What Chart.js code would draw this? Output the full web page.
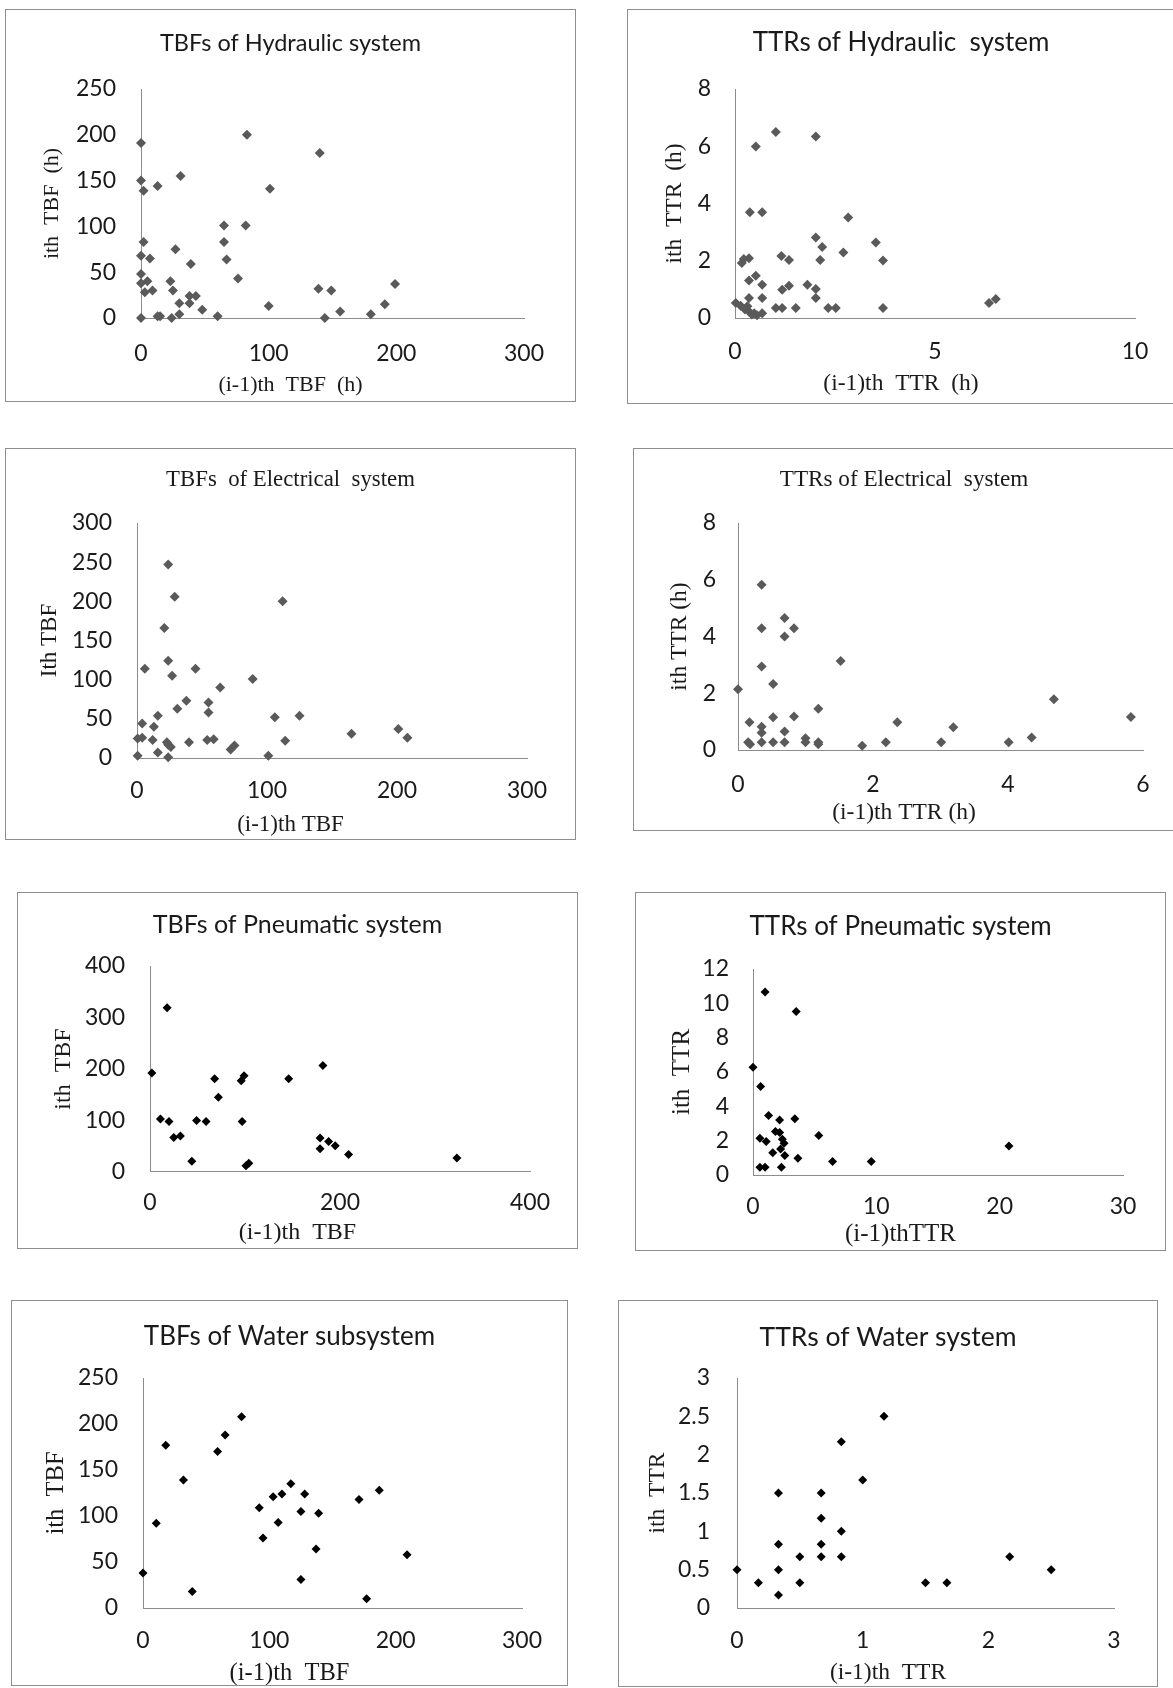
<!DOCTYPE html>
<html>
<head>
<meta charset="utf-8">
<title>TBF / TTR scatter plots</title>
<script src="https://cdn.jsdelivr.net/npm/chart.js@4.4.1/dist/chart.umd.min.js"></script>
<style>
  html, body { margin: 0; padding: 0; background: #fff; }
  body { position: relative; width: 1173px; height: 1688px; overflow: hidden; }
  canvas.panel { position: absolute; }
  .frame { position: absolute; box-sizing: border-box; border: 1px solid #8e8e8e; pointer-events: none; }
</style>
</head>
<body>
<script>
// ---- data: (i-1)th value vs ith value ----

// Hydraulic system, TBF (h)
const hydTbfPrev = [0, 0, 2, 13, 31, 83, 140, 101, 65, 82, 65, 67, 76, 27, 39, 2, 0, 7, 0, 0, 5, 3, 9, 23, 25, 30, 38, 38, 43, 48, 60, 30, 24, 15, 13, 0, 100, 139, 149, 144, 156, 180, 191, 199];
const hydTbfNext = [191, 150, 139, 144, 155, 200, 180, 141, 101, 101, 83, 64, 43, 75, 59, 83, 68, 65, 48, 38, 40, 28, 30, 40, 30, 16, 24, 16, 24, 9, 2, 4, 0, 2, 2, 0, 13, 32, 30, 0, 7, 4, 15, 37];

// Hydraulic system, TTR (h)
const hydTtrPrev = [1.02, 2.02, 0.52, 0.37, 0.68, 2.83, 2.02, 3.52, 2.18, 2.71, 2.13, 3.7, 1.16, 1.35, 0.17, 0.22, 0.35, 0.52, 0.35, 0.68, 1.18, 1.35, 1.81, 2.02, 2.02, 0.68, 0.35, 0.02, 0.14, 0.31, 0.35, 0.48, 0.68, 1.02, 1.18, 1.52, 2.33, 2.52, 3.7, 6.35, 6.52, 0.25, 0.42, 0.55];
const hydTtrNext = [6.5, 6.34, 5.99, 3.69, 3.69, 3.51, 2.81, 2.64, 2.48, 2.29, 2.03, 2.01, 2.17, 2.03, 1.92, 2.06, 2.09, 1.48, 1.31, 1.16, 0.99, 1.13, 1.16, 1.01, 0.7, 0.7, 0.7, 0.52, 0.43, 0.41, 0.23, 0.17, 0.17, 0.35, 0.35, 0.35, 0.35, 0.35, 0.35, 0.52, 0.66, 0.3, 0.12, 0.1];

// Electrical system, TBF
const eleTbfPrev = [24, 29, 112, 21, 24, 6, 45, 27, 89, 64, 38, 31, 55, 55, 16, 106, 125, 4, 13, 0.5, 4, 12, 23, 24, 26, 16, 24, 0.5, 40, 54, 59, 72, 75, 101, 114, 165, 201, 208];
const eleTbfNext = [247, 206, 200, 166, 124, 114, 114, 105, 101, 90, 73, 63, 71, 58, 54, 52, 54, 44, 40, 25, 26, 23, 20, 17, 14, 7, 1, 3, 20, 23, 24, 11, 16, 3, 22, 31, 37, 26];

// Electrical system, TTR (h)
const eleTtrPrev = [0, 0.35, 0.35, 0.69, 0.69, 0.83, 0.35, 0.52, 1.52, 1.19, 0.17, 0.35, 0.35, 0.52, 0.83, 0.69, 0.15, 0.18, 0.35, 0.52, 0.69, 1.0, 1.0, 1.19, 1.19, 1.84, 2.19, 2.36, 3.01, 3.19, 4.01, 4.35, 4.68, 5.82];
const eleTtrNext = [2.14, 5.82, 4.29, 4.65, 4.0, 4.29, 2.94, 2.33, 3.14, 1.45, 0.98, 0.82, 0.61, 1.15, 1.18, 0.65, 0.27, 0.2, 0.27, 0.27, 0.27, 0.41, 0.27, 0.27, 0.2, 0.15, 0.27, 0.98, 0.27, 0.8, 0.27, 0.44, 1.79, 1.16];

// Pneumatic system, TBF
const pneTbfPrev = [18, 2, 182, 99, 96, 68, 146, 72, 11, 20, 49, 59, 97, 25, 32, 179, 188, 195, 179, 209, 44, 101, 104, 323];
const pneTbfNext = [319, 192, 207, 187, 177, 181, 181, 145, 103, 98, 100, 98, 98, 67, 70, 66, 59, 51, 45, 34, 21, 12, 17, 27];

// Pneumatic system, TTR
const pneTtrPrev = [0.98, 3.5, 0, 0.62, 1.26, 2.16, 3.39, 1.82, 2.16, 5.33, 0.56, 1.07, 2.38, 2.52, 2.24, 1.6, 2.58, 3.64, 6.45, 9.59, 20.75, 0.56, 0.98, 2.3];
const pneTtrNext = [10.66, 9.53, 6.28, 5.16, 3.46, 3.21, 3.27, 2.53, 2.47, 2.3, 2.14, 1.95, 2.08, 1.85, 1.52, 1.3, 1.13, 0.97, 0.78, 0.78, 1.69, 0.45, 0.45, 0.45];

// Water subsystem, TBF
const watTbfPrev = [0, 10.5, 18, 39, 32, 59, 65, 78, 92, 95, 103, 110, 107, 117, 128, 125, 139, 137, 125, 171, 187, 209, 177];
const watTbfNext = [38, 92, 177, 18, 139, 170, 188, 208, 109, 76, 121, 124, 93, 135, 124, 105, 103, 64, 31, 118, 128, 58, 10];

// Water system, TTR
const watTtrPrev = [0, 0.17, 0.33, 0.33, 0.33, 0.33, 0.5, 0.5, 0.67, 0.67, 0.67, 0.67, 0.83, 0.83, 0.83, 1, 1.17, 1.5, 1.67, 2.17, 2.5];
const watTtrNext = [0.5, 0.33, 1.5, 0.83, 0.5, 0.17, 0.67, 0.33, 1.5, 1.17, 0.83, 0.67, 2.17, 1, 0.67, 1.67, 2.5, 0.33, 0.33, 0.67, 0.5];

// axis ranges: [max, step]
const tbfHydX = [300, 100], tbfHydY = [250, 50];
const ttrHydX = [10, 5],    ttrHydY = [8, 2];
const tbfEleX = [300, 100], tbfEleY = [300, 50];
const ttrEleX = [6, 2],     ttrEleY = [8, 2];
const tbfPneX = [400, 200], tbfPneY = [400, 100];
const ttrPneX = [30, 10],   ttrPneY = [12, 2];
const tbfWatX = [300, 100], tbfWatY = [250, 50];
const ttrWatX = [3, 1],     ttrWatY = [3, 0.5];

// ---- styling ----
const SANS = 'Lato, "Open Sans", sans-serif';
const SERIF = '"Liberation Serif", "Times New Roman", serif';
const TEXT = '#1a1a1a';
const AXIS = '#8c8c8c';
const GREY_MARK = '#5a5a5a';
const BLACK_MARK = '#000';
const TICK_SIZE = 23;

// box / area are page pixels: [left, top, right, bottom]
const panels = [
  { xs: hydTbfPrev, ys: hydTbfNext, xr: tbfHydX, yr: tbfHydY,
    title: 'TBFs of Hydraulic system', tFont: SANS, tSize: 23.5,
    xTitle: '(i-1)th  TBF  (h)', yTitle: 'ith  TBF  (h)', aSize: 22,
    box: [5, 9, 576, 402], area: [141, 89, 524, 318],
    titleY: 43, xTitleY: 385, yTitleX: 52, xLabelY: 354, yPad: 25, color: GREY_MARK, r: 5 },
  { xs: hydTtrPrev, ys: hydTtrNext, xr: ttrHydX, yr: ttrHydY,
    title: 'TTRs of Hydraulic  system', tFont: SANS, tSize: 26,
    xTitle: '(i-1)th  TTR  (h)', yTitle: 'ith  TTR  (h)', aSize: 23.5,
    box: [627, 9, 1175, 404], area: [735, 89, 1135, 318],
    titleY: 43, xTitleY: 384, yTitleX: 675, xLabelY: 352, yPad: 24, color: GREY_MARK, r: 5 },
  { xs: eleTbfPrev, ys: eleTbfNext, xr: tbfEleX, yr: tbfEleY,
    title: 'TBFs  of Electrical  system', tFont: SERIF, tSize: 22.8,
    xTitle: '(i-1)th TBF', yTitle: 'Ith TBF', aSize: 23,
    box: [5, 448, 576, 840], area: [137, 523, 527, 758],
    titleY: 480, xTitleY: 825, yTitleX: 50, xLabelY: 791, yPad: 25, color: GREY_MARK, r: 5 },
  { xs: eleTtrPrev, ys: eleTtrNext, xr: ttrEleX, yr: ttrEleY,
    title: 'TTRs of Electrical  system', tFont: SERIF, tSize: 23.2,
    xTitle: '(i-1)th TTR (h)', yTitle: 'ith TTR (h)', aSize: 23.5,
    box: [633, 448, 1175, 831], area: [738, 523, 1143, 750],
    titleY: 480, xTitleY: 813, yTitleX: 680, xLabelY: 785, yPad: 22, color: GREY_MARK, r: 5 },
  { xs: pneTbfPrev, ys: pneTbfNext, xr: tbfPneX, yr: tbfPneY,
    title: 'TBFs of Pneumatic system', tFont: SANS, tSize: 25,
    xTitle: '(i-1)th  TBF', yTitle: 'ith  TBF', aSize: 24,
    box: [17, 892, 578, 1249], area: [150, 966, 530, 1172],
    titleY: 925, xTitleY: 1233, yTitleX: 64, xLabelY: 1203, yPad: 25, color: BLACK_MARK, r: 4.5 },
  { xs: pneTtrPrev, ys: pneTtrNext, xr: ttrPneX, yr: ttrPneY,
    title: 'TTRs of Pneumatic system', tFont: SANS, tSize: 26,
    xTitle: '(i-1)thTTR', yTitle: 'ith  TTR', aSize: 25,
    box: [635, 892, 1166, 1251], area: [753, 969, 1123, 1175],
    titleY: 927, xTitleY: 1234, yTitleX: 682, xLabelY: 1207, yPad: 24, color: BLACK_MARK, r: 4.5 },
  { xs: watTbfPrev, ys: watTbfNext, xr: tbfWatX, yr: tbfWatY,
    title: 'TBFs of Water subsystem', tFont: SANS, tSize: 26,
    xTitle: '(i-1)th  TBF', yTitle: 'ith  TBF', aSize: 24.5,
    box: [11, 1300, 568, 1686], area: [143, 1378, 522, 1608],
    titleY: 1337, xTitleY: 1674, yTitleX: 57, xLabelY: 1641, yPad: 25, color: BLACK_MARK, r: 4.5 },
  { xs: watTtrPrev, ys: watTtrNext, xr: ttrWatX, yr: ttrWatY,
    title: 'TTRs of Water system', tFont: SANS, tSize: 26.5,
    xTitle: '(i-1)th  TTR', yTitle: 'ith  TTR', aSize: 23.5,
    box: [618, 1300, 1158, 1687], area: [737, 1378, 1114, 1608],
    titleY: 1337, xTitleY: 1673, yTitleX: 658, xLabelY: 1641, yPad: 27, color: BLACK_MARK, r: 4.5 }
];

// plain number labels, like the spreadsheet ("3", "2.5", "2" ...)
const plainTick = (v) => String(Math.round(v * 1000) / 1000);

function addPanel(p) {
  const [x0, y0, x1, y1] = p.box;
  const [l, t, r, b] = p.area;
  const w = x1 - x0, h = y1 - y0;

  const canvas = document.createElement('canvas');
  canvas.className = 'panel';
  canvas.width = w;
  canvas.height = h;
  canvas.style.left = x0 + 'px';
  canvas.style.top = y0 + 'px';
  canvas.style.width = w + 'px';
  canvas.style.height = h + 'px';
  document.body.appendChild(canvas);

  const frame = document.createElement('div');
  frame.className = 'frame';
  frame.style.left = x0 + 'px';
  frame.style.top = y0 + 'px';
  frame.style.width = w + 'px';
  frame.style.height = h + 'px';
  document.body.appendChild(frame);

  // symmetric side padding keeps the titles centred on the box
  const side = x1 - r;
  const tLh = p.tSize * 1.2;
  const tTop = p.titleY - y0 - tLh / 2;
  const tBottom = (t - y0) - tLh - tTop;
  const aLh = p.aSize * 1.2;
  const xtBottom = y1 - p.xTitleY - aLh / 2;
  const xScaleH = (y1 - aLh - xtBottom) - b;
  const yScaleW = (l - x0) - side;
  const yTitlePad = (p.yTitleX - x0) - side - aLh / 2;
  const xTickPad = p.xLabelY - b - TICK_SIZE * 1.2 / 2;

  new Chart(canvas, {
    type: 'scatter',
    data: {
      datasets: [{
        data: p.xs.map((x, i) => ({ x: x, y: p.ys[i] })),
        pointStyle: 'rectRot',
        pointRadius: p.r,
        pointHoverRadius: p.r,
        backgroundColor: p.color,
        borderColor: p.color,
        borderWidth: 0,
        clip: false
      }]
    },
    options: {
      responsive: false,
      animation: false,
      devicePixelRatio: 1,
      layout: { padding: { left: side, right: side, top: 0, bottom: 0 } },
      plugins: {
        legend: { display: false },
        tooltip: { enabled: false },
        title: {
          display: true,
          text: p.title,
          color: TEXT,
          font: { family: p.tFont, size: p.tSize, weight: 'normal', lineHeight: 1.2 },
          padding: { top: tTop, bottom: tBottom }
        },
        subtitle: {
          display: true,
          position: 'bottom',
          text: p.xTitle,
          color: TEXT,
          font: { family: SERIF, size: p.aSize, weight: 'normal', lineHeight: 1.2 },
          padding: { top: 0, bottom: xtBottom }
        }
      },
      scales: {
        x: {
          type: 'linear',
          position: 'bottom',
          min: 0,
          max: p.xr[0],
          ticks: { stepSize: p.xr[1], padding: xTickPad, maxRotation: 0, color: TEXT,
                   font: { family: SANS, size: TICK_SIZE }, callback: plainTick },
          grid: { display: false, drawTicks: false },
          border: { display: true, color: AXIS, width: 1 },
          afterFit: (s) => { s.height = xScaleH; }
        },
        y: {
          type: 'linear',
          min: 0,
          max: p.yr[0],
          ticks: { stepSize: p.yr[1], padding: p.yPad, color: TEXT,
                   font: { family: SANS, size: TICK_SIZE }, callback: plainTick },
          grid: { display: false, drawTicks: false },
          border: { display: true, color: AXIS, width: 1 },
          title: {
            display: true,
            text: p.yTitle,
            color: TEXT,
            font: { family: SERIF, size: p.aSize, lineHeight: 1.2 },
            padding: { top: yTitlePad, bottom: 0 }
          },
          afterFit: (s) => { s.width = yScaleW; }
        }
      }
    }
  });
}

panels.forEach(addPanel);
</script>
</body>
</html>
